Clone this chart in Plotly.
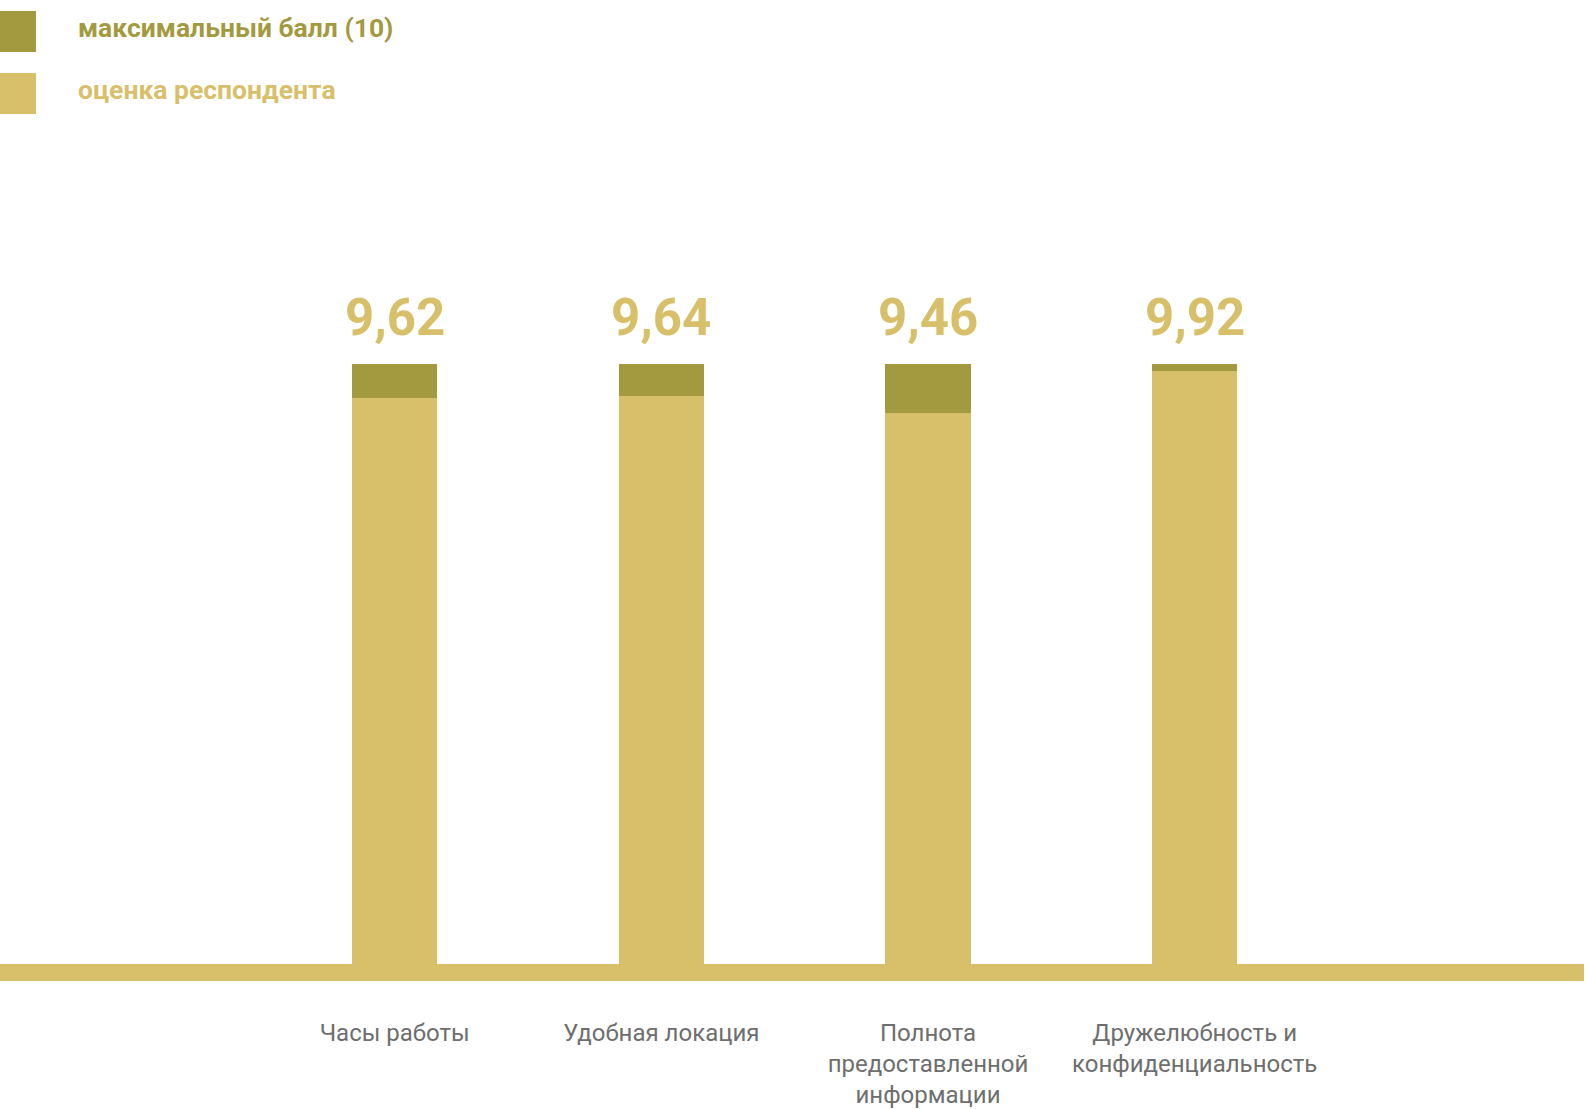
import plotly.graph_objects as go

# Survey results: respondent scores against the 10-point maximum
categories = [
    "Часы работы",
    "Удобная локация",
    "Полнота<br>предоставленной<br>информации",
    "Дружелюбность и<br>конфиденциальность",
]
scores = [9.62, 9.64, 9.46, 9.92]
max_score = 10
series_names = ["максимальный балл (10)", "оценка респондента"]

DARK = "#A39A40"
LIGHT = "#D8C06A"
GRAY = "#6E6E6E"
FONT = "Roboto"

gap_to_max = [round(max_score - s, 2) for s in scores]
x_idx = list(range(len(categories)))

fig = go.Figure()
fig.add_trace(go.Bar(
    x=x_idx, y=scores, name=series_names[1],
    marker=dict(color=LIGHT, line=dict(width=0)),
    width=0.321, hoverinfo="skip",
))
fig.add_trace(go.Bar(
    x=x_idx, y=gap_to_max, name=series_names[0],
    marker=dict(color=DARK, line=dict(width=0)),
    width=0.321, hoverinfo="skip",
))

# value labels above each bar
for i, s in enumerate(scores):
    fig.add_annotation(
        x=i, y=max_score, xref="x", yref="y",
        text=f"{s:.2f}".replace(".", ","),
        showarrow=False, yanchor="middle", yshift=47,
        font=dict(family=FONT, size=51, color=LIGHT, weight="bold"),
    )

# baseline band along the bottom of the plot
fig.add_shape(
    type="rect", xref="paper", yref="paper",
    x0=0, x1=1, y0=0, y1=17 / 831,
    fillcolor=LIGHT, line=dict(width=0), layer="above",
)

# legend drawn as swatches with labels
legend_rows = [(series_names[0], DARK, 11, 52), (series_names[1], LIGHT, 73, 114)]
for name, color, top, bottom in legend_rows:
    fig.add_shape(
        type="rect", xref="paper", yref="paper",
        x0=0, x1=36 / 1584,
        y0=1 + (150 - bottom) / 831, y1=1 + (150 - top) / 831,
        fillcolor=color, line=dict(width=0),
    )
    fig.add_annotation(
        x=76 / 1584, y=1 + (150 - (top + bottom) / 2 + 4) / 831,
        xref="paper", yref="paper", text=name, showarrow=False,
        xanchor="left", yanchor="middle",
        font=dict(family=FONT, size=26.5, color=color, weight="bold"),
    )

fig.update_layout(
    width=1587, height=1109,
    margin=dict(l=0, r=3, t=150, b=128),
    barmode="stack",
    bargap=0,
    showlegend=False,
    paper_bgcolor="white",
    plot_bgcolor="white",
    font=dict(family=FONT),
)
fig.update_xaxes(
    range=[-1.48, 4.46],
    tickmode="array", tickvals=x_idx, ticktext=categories,
    tickfont=dict(family=FONT, size=24, color=GRAY),
    showgrid=False, zeroline=False, showline=False, ticks="",
    ticklabelstandoff=35,
)
fig.update_yaxes(
    range=[3.144, 12.378],
    visible=False, showgrid=False, zeroline=False,
)

fig.write_html("out.html")
